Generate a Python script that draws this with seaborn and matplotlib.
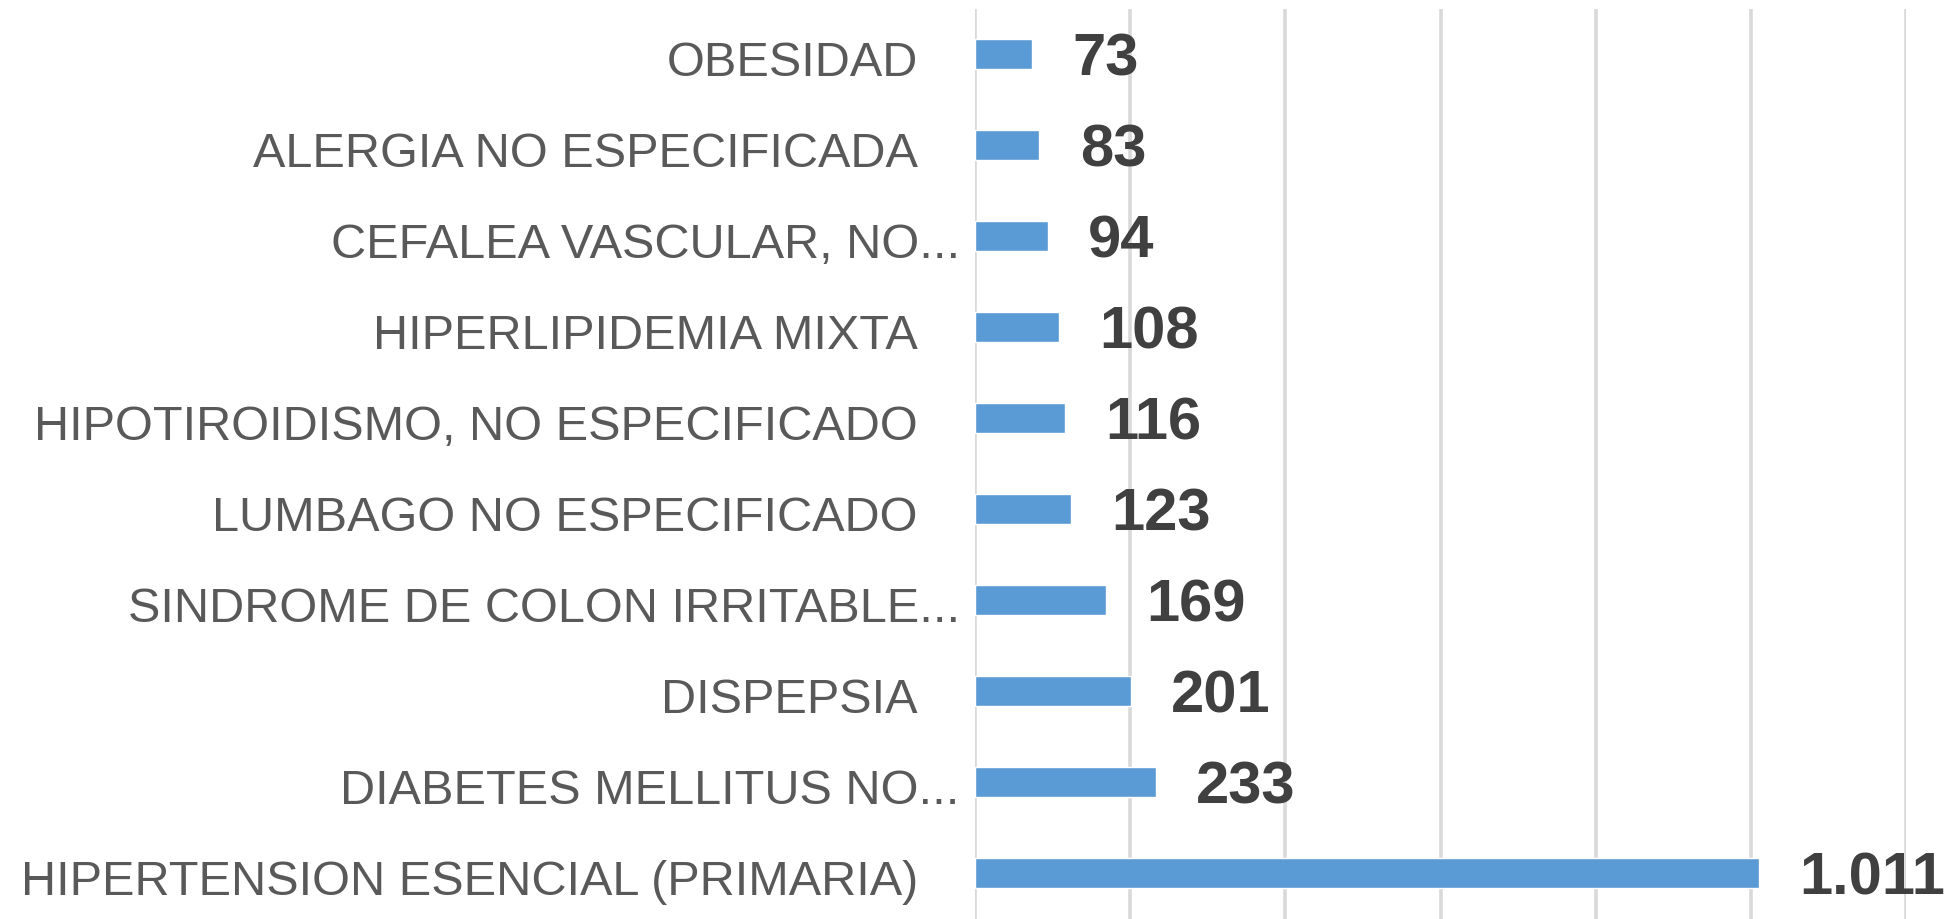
import matplotlib
matplotlib.use("Agg")
import matplotlib.pyplot as plt
import matplotlib.transforms as mtransforms
import seaborn as sns
import pandas as pd

# diagnosticos (de arriba hacia abajo) y numero de consultas
diagnosticos = [
    "OBESIDAD",
    "ALERGIA NO ESPECIFICADA",
    "CEFALEA VASCULAR, NO...",
    "HIPERLIPIDEMIA MIXTA",
    "HIPOTIROIDISMO, NO ESPECIFICADO",
    "LUMBAGO NO ESPECIFICADO",
    "SINDROME DE COLON IRRITABLE...",
    "DISPEPSIA",
    "DIABETES MELLITUS NO...",
    "HIPERTENSION ESENCIAL (PRIMARIA)",
]
consultas = [73, 83, 94, 108, 116, 123, 169, 201, 233, 1011]
etiquetas = ["73", "83", "94", "108", "116", "123", "169", "201", "233", "1.011"]

df = pd.DataFrame({"diagnostico": diagnosticos, "consultas": consultas})

sns.set_style("white")
plt.rcParams["font.family"] = ["Liberation Sans Narrow", "Liberation Sans", "DejaVu Sans"]

fig = plt.figure(figsize=(19.6, 9.2), dpi=100)
ax = fig.add_axes([0.4975, 0.0005, 0.475, 0.989])

sns.barplot(data=df, x="consultas", y="diagnostico", color="#5B9BD5",
            saturation=1, width=0.33, ax=ax, zorder=3)

ax.set_xlim(0, 1200)
ax.set_ylim(9.5, -0.5)
ax.set_xticks(range(0, 1201, 200))
ax.xaxis.grid(True, color="#D9D9D9", linewidth=2.6, zorder=0)
ax.set_axisbelow(True)
ax.tick_params(axis="x", labelbottom=False, length=0)
ax.tick_params(axis="y", length=0, pad=11, labelsize=35, labelcolor="#595959")
for s in ax.spines.values():
    s.set_visible(False)
ax.set_xlabel("")
ax.set_ylabel("")

# labels without ellipsis sit a bit further left (trailing space in source)
for lab in ax.get_yticklabels():
    shift = -0.42 if not lab.get_text().endswith("...") else 0
    lab.set_transform(lab.get_transform() +
                      mtransforms.ScaledTranslation(shift, -0.03, fig.dpi_scale_trans))

txts = ax.bar_label(ax.containers[0], labels=etiquetas, padding=29, fontsize=43,
                    fontweight="bold", color="#404040")
for t in txts:
    t.xyann = (29, -3.5)

fig.savefig("out.png", dpi=100)
